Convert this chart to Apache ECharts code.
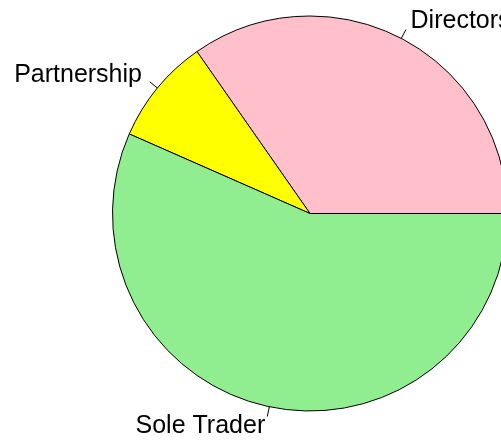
<!DOCTYPE html>
<html>
<head>
<meta charset="utf-8">
<script src="https://cdn.jsdelivr.net/npm/echarts@6/dist/echarts.min.js"></script>
<style>
html,body{margin:0;padding:0;background:#fff;}
#chart{width:501px;height:445px;}
</style>
</head>
<body>
<div id="chart"></div>
<script>
const categories = ['Directors', 'Partnership', 'Sole Trader'];
const values = [34.7, 8.7, 56.6];
const colors = ['#FFC0CB', '#FFFF00', '#90EE90'];

const chart = echarts.init(document.getElementById('chart'), null, {renderer: 'canvas'});
chart.setOption({
  animation: false,
  backgroundColor: '#ffffff',
  series: [{
    type: 'pie',
    center: [310, 213.5],
    radius: 197.5,
    startAngle: 0,
    clockwise: false,
    avoidLabelOverlap: false,
    silent: true,
    data: categories.map((c, i) => ({
      name: c,
      value: values[i],
      itemStyle: {color: colors[i]}
    })),
    itemStyle: {borderColor: '#000', borderWidth: 1},
    label: {
      show: true,
      position: 'outside',
      formatter: '{b}',
      color: '#000',
      fontFamily: 'Liberation Sans, Arial, sans-serif',
      fontSize: 25
    },
    labelLine: {
      show: true,
      length: 10,
      length2: 0,
      lineStyle: {color: '#000', width: 1}
    },
    labelLayout: function (p) {
      const pts = p.labelLinePoints;
      if (!pts || pts.length < 2) return {};
      const x = pts[0][0] + 2 * (pts[1][0] - pts[0][0]);
      const y = pts[0][1] + 2 * (pts[1][1] - pts[0][1]);
      return {
        x: x,
        y: y,
        align: (pts[1][0] - pts[0][0]) < 0 ? 'right' : 'left',
        verticalAlign: 'middle',
        labelLinePoints: [pts[0], pts[1]]
      };
    }
  }]
});
</script>
</body>
</html>
